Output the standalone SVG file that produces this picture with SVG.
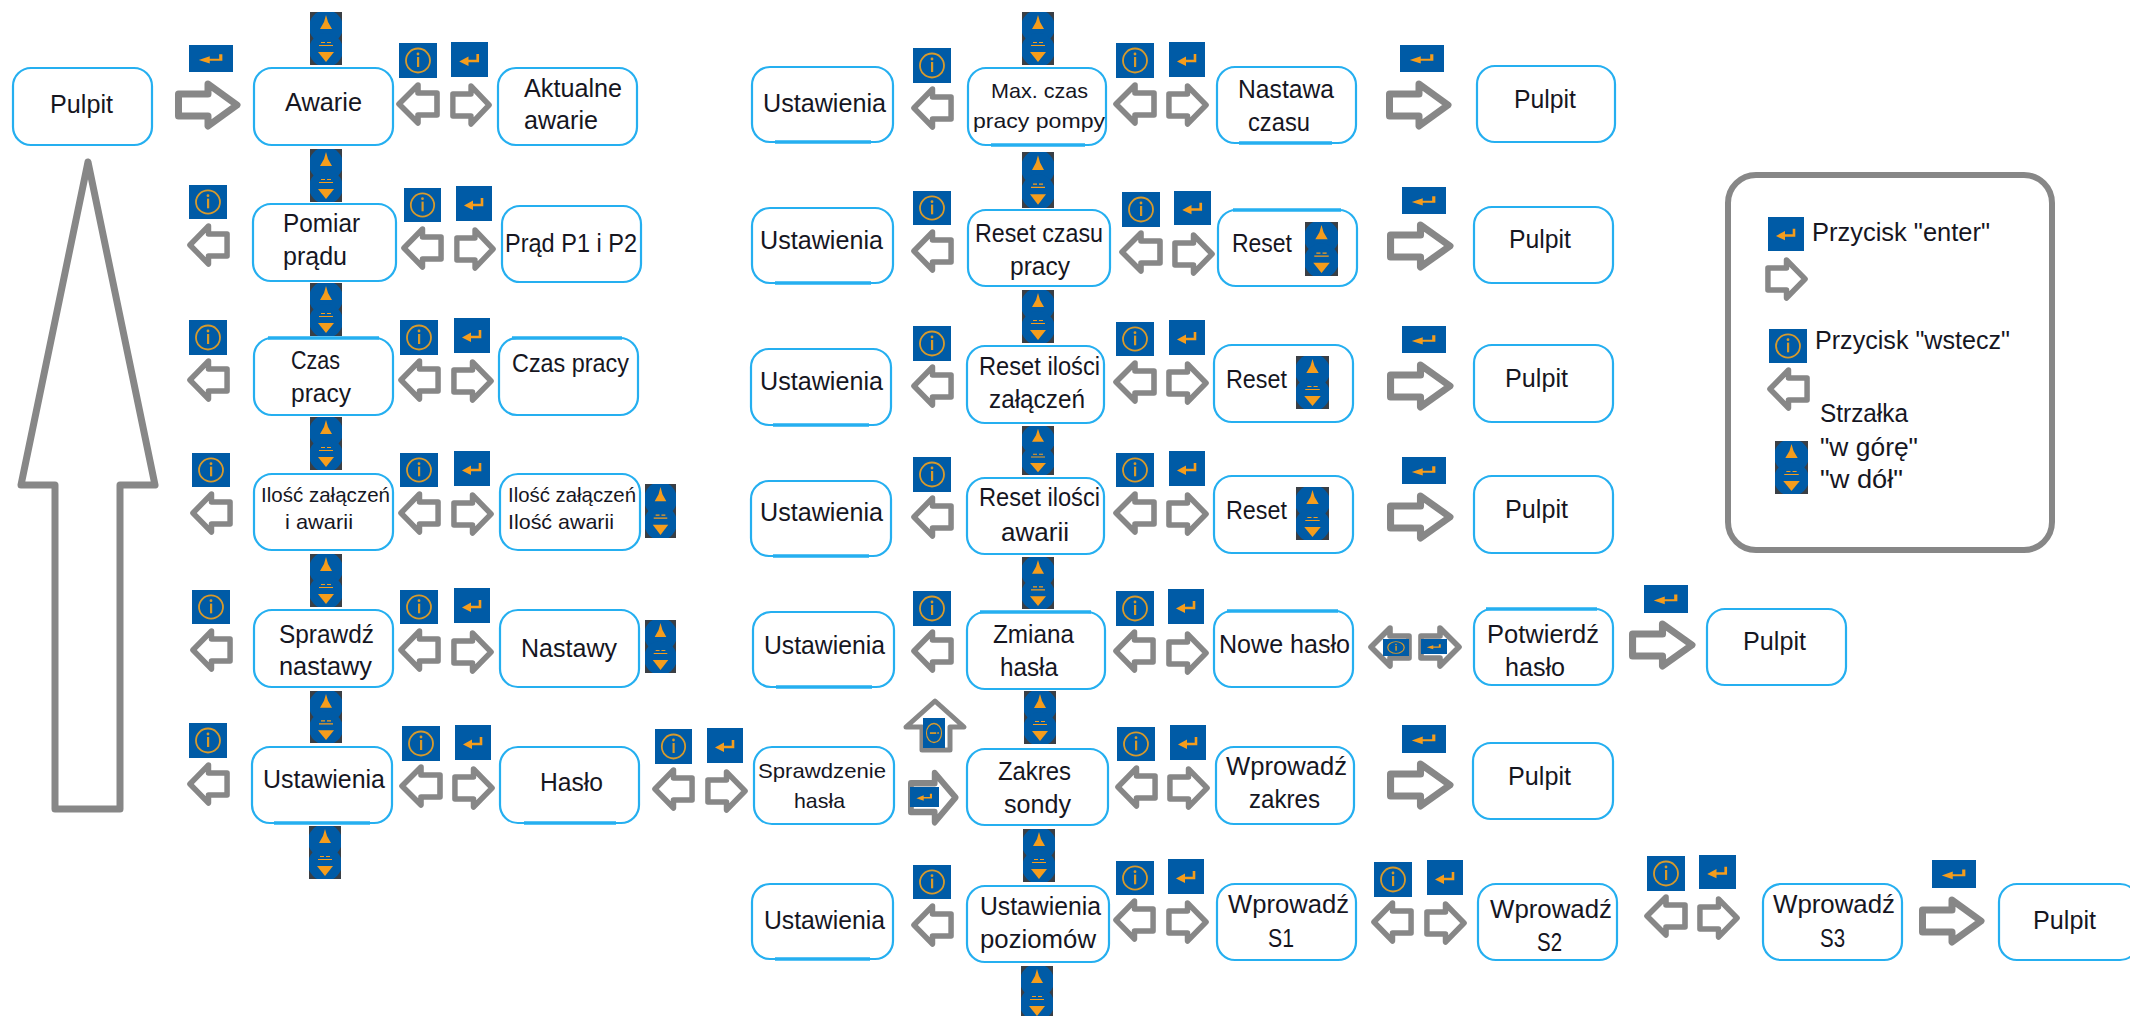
<svg xmlns="http://www.w3.org/2000/svg" width="2130" height="1016" viewBox="0 0 2130 1016">
<style>
text{font-family:"Liberation Sans",Arial,sans-serif;font-size:25px;fill:#16161f}
.s{font-size:21px}
.n{fill:#fff;stroke:#25aff0;stroke-width:2.2}
.t{fill:none;stroke:#25aff0;stroke-width:3.6}
.a{fill:#fff;stroke:#878787;stroke-linejoin:round}
.o{fill:#f59d1c}
.ol{fill:none;stroke:#f59d1c}
.ring{fill:none;stroke:#d79a2c}
.k{fill:#005ba6}
</style>
<defs>
<symbol id="ar" viewBox="0 0 44 44" preserveAspectRatio="none"><polygon class="a" stroke-width="5.600" points="3,11 22,11 22,3 41,22 22,41 22,33 3,33"/></symbol>
<symbol id="al" viewBox="0 0 44 44" preserveAspectRatio="none"><polygon class="a" stroke-width="5.600" points="41,11 22,11 22,3 3,22 22,41 22,33 41,33"/></symbol>
<symbol id="aR" viewBox="0 0 66 50" preserveAspectRatio="none"><polygon class="a" stroke-width="7" points="3.500,14 33,14 33,4 62,25 33,46 33,36 3.500,36"/></symbol>
<symbol id="en" viewBox="0 0 36 35" preserveAspectRatio="none"><rect class="k" width="36" height="35"/><path class="ol" stroke-width="2.600" d="M26 12V19H15"/><polygon class="o" points="8,19.500 17,14.500 17,24"/></symbol>
<symbol id="in" viewBox="0 0 38 35" preserveAspectRatio="none"><rect class="k" width="38" height="35"/><circle class="ring" stroke-width="1.800" cx="19" cy="17.500" r="12"/><rect x="18" y="14" width="2.200" height="10" fill="#d79a2c"/><circle cx="19" cy="11" r="1.400" fill="#d79a2c"/></symbol>
<symbol id="ud" viewBox="0 0 32 53" preserveAspectRatio="none"><rect width="32" height="53" fill="#3a3f45"/><ellipse class="k" cx="16" cy="15" rx="17" ry="17"/><ellipse class="k" cx="16" cy="38" rx="17" ry="17"/><polygon class="o" points="16,3 18,10 22,17 10,17 14,10"/><polygon class="o" points="8,40 24,40 16,50"/><path class="ol" stroke-width="1.200" d="M9 33.500H23M11 30.500h4M17 30.500h4"/></symbol>
</defs>
<rect width="2130" height="1016" fill="#fff"/>
<g id="connectors">
<polygon class="a" stroke-width="7" points="88,162 155,485 120,485 120,809 55,809 55,485 21,485"/>
<use href="#aR" x="175" y="80" width="66" height="50"/><use href="#al" x="396" y="82" width="44" height="44"/><use href="#ar" x="450" y="83" width="42" height="44"/>
<use href="#al" x="187" y="223" width="43" height="44"/><use href="#al" x="401" y="226" width="43" height="44"/><use href="#ar" x="454" y="227" width="42" height="44"/>
<use href="#al" x="187" y="358" width="43" height="44"/><use href="#al" x="398" y="358" width="43" height="44"/><use href="#ar" x="451" y="359" width="43" height="44"/>
<use href="#al" x="190" y="491" width="43" height="44"/><use href="#al" x="398" y="491" width="43" height="44"/><use href="#ar" x="451" y="492" width="43" height="44"/>
<use href="#al" x="190" y="628" width="43" height="44"/><use href="#al" x="398" y="628" width="43" height="44"/><use href="#ar" x="451" y="630" width="43" height="44"/>
<use href="#al" x="187" y="762" width="43" height="44"/><use href="#al" x="399" y="764" width="44" height="44"/><use href="#ar" x="452" y="766" width="43" height="44"/>
<use href="#al" x="652" y="767" width="43" height="44"/><use href="#ar" x="705" y="769" width="43" height="44"/>
<use href="#al" x="911" y="86" width="43" height="44"/><use href="#al" x="1113" y="82" width="44" height="44"/><use href="#ar" x="1166" y="83" width="43" height="44"/><use href="#aR" x="1386" y="80" width="66" height="50"/>
<use href="#al" x="911" y="229" width="43" height="44"/><use href="#al" x="1119" y="230" width="44" height="44"/><use href="#ar" x="1172" y="232" width="43" height="44"/><use href="#aR" x="1387" y="221" width="67" height="50"/>
<use href="#al" x="911" y="364" width="43" height="44"/><use href="#al" x="1113" y="360" width="44" height="44"/><use href="#ar" x="1166" y="361" width="43" height="44"/><use href="#aR" x="1387" y="361" width="67" height="50"/>
<use href="#al" x="911" y="495" width="43" height="44"/><use href="#al" x="1113" y="491" width="44" height="44"/><use href="#ar" x="1166" y="492" width="43" height="44"/><use href="#aR" x="1387" y="492" width="67" height="50"/>
<use href="#al" x="911" y="629" width="43" height="44"/><use href="#al" x="1113" y="629" width="43" height="44"/><use href="#ar" x="1166" y="631" width="43" height="44"/>
<use href="#al" x="1368" y="625" width="44" height="44"/><use href="#ar" x="1418" y="625" width="44" height="44"/><use href="#aR" x="1629" y="620" width="67" height="50"/>
<polygon class="a" stroke-width="5" points="935,701 964,727 950,727 950,750 922,750 922,727 906,727"/>
<polygon class="a" stroke-width="5" transform="translate(908 769) scale(1.160 1.300)" points="2.500,11 23,11 23,3 41,22 23,41 23,33 2.500,33"/>
<use href="#al" x="1115" y="765" width="43" height="44"/><use href="#ar" x="1167" y="766" width="43" height="44"/><use href="#aR" x="1387" y="760" width="67" height="50"/>
<use href="#al" x="911" y="903" width="43" height="44"/><use href="#al" x="1113" y="898" width="43" height="44"/><use href="#ar" x="1166" y="900" width="43" height="44"/>
<use href="#al" x="1371" y="900" width="43" height="44"/><use href="#ar" x="1424" y="901" width="43" height="44"/>
<use href="#al" x="1644" y="894" width="44" height="44"/><use href="#ar" x="1697" y="896" width="43" height="44"/><use href="#aR" x="1919" y="896" width="66" height="50"/>
</g>
<g id="keys">
<use href="#en" x="189" y="45" width="44" height="27"/><use href="#in" x="399" y="43" width="38" height="35"/><use href="#en" x="451" y="42" width="37" height="35"/>
<use href="#ud" x="310" y="12" width="32" height="53"/><use href="#ud" x="310" y="149" width="32" height="53"/><use href="#ud" x="310" y="283" width="32" height="53"/><use href="#ud" x="310" y="417" width="32" height="53"/><use href="#ud" x="310" y="554" width="32" height="53"/><use href="#ud" x="310" y="691" width="32" height="52"/><use href="#ud" x="309" y="826" width="32" height="53"/>
<use href="#in" x="189" y="185" width="38" height="34"/><use href="#in" x="404" y="188" width="37" height="34"/><use href="#en" x="456" y="186" width="36" height="35"/>
<use href="#in" x="189" y="320" width="38" height="35"/><use href="#in" x="400" y="320" width="38" height="35"/><use href="#en" x="454" y="318" width="36" height="35"/>
<use href="#in" x="192" y="453" width="38" height="34"/><use href="#in" x="400" y="453" width="38" height="34"/><use href="#en" x="454" y="451" width="36" height="35"/>
<use href="#in" x="192" y="590" width="38" height="34"/><use href="#in" x="400" y="590" width="38" height="34"/><use href="#en" x="454" y="588" width="36" height="35"/>
<use href="#in" x="189" y="723" width="38" height="35"/><use href="#in" x="402" y="726" width="38" height="35"/><use href="#en" x="455" y="725" width="36" height="35"/>
<use href="#in" x="655" y="729" width="37" height="35"/><use href="#en" x="707" y="728" width="36" height="35"/>
<use href="#in" x="913" y="48" width="38" height="35"/><use href="#ud" x="1022" y="12" width="32" height="53"/><use href="#in" x="1116" y="43" width="38" height="35"/><use href="#en" x="1169" y="42" width="36" height="35"/><use href="#en" x="1400" y="45" width="44" height="27"/>
<use href="#ud" x="1022" y="152" width="32" height="56"/><use href="#in" x="913" y="191" width="38" height="34"/><use href="#in" x="1122" y="192" width="38" height="35"/><use href="#en" x="1174" y="191" width="37" height="34"/><use href="#en" x="1402" y="187" width="44" height="27"/>
<use href="#ud" x="1022" y="290" width="32" height="53"/><use href="#in" x="913" y="326" width="38" height="35"/><use href="#in" x="1116" y="322" width="38" height="34"/><use href="#en" x="1169" y="320" width="36" height="35"/><use href="#en" x="1402" y="326" width="44" height="27"/>
<use href="#ud" x="1022" y="426" width="32" height="49"/><use href="#in" x="913" y="457" width="38" height="35"/><use href="#in" x="1116" y="453" width="38" height="34"/><use href="#en" x="1169" y="451" width="36" height="35"/><use href="#en" x="1402" y="457" width="44" height="27"/>
<use href="#ud" x="1022" y="557" width="32" height="52"/><use href="#in" x="913" y="591" width="38" height="35"/><use href="#in" x="1116" y="591" width="38" height="35"/><use href="#en" x="1168" y="589" width="36" height="35"/>
<use href="#in" x="1383" y="639" width="26" height="17"/><use href="#en" x="1421" y="639" width="26" height="15"/><use href="#en" x="1644" y="585" width="44" height="28"/>
<use href="#ud" x="1024" y="691" width="32" height="53"/><use href="#in" transform="rotate(90 934 733)" x="919" y="722" width="30" height="22"/><use href="#en" x="910" y="787" width="29" height="20"/>
<use href="#in" x="1117" y="727" width="38" height="34"/><use href="#en" x="1170" y="725" width="36" height="35"/><use href="#en" x="1402" y="725" width="44" height="28"/>
<use href="#ud" x="1023" y="829" width="32" height="53"/><use href="#in" x="913" y="865" width="38" height="34"/><use href="#in" x="1116" y="861" width="38" height="34"/><use href="#en" x="1168" y="859" width="36" height="35"/>
<use href="#in" x="1374" y="862" width="38" height="35"/><use href="#en" x="1427" y="860" width="36" height="35"/><use href="#in" x="1647" y="856" width="38" height="35"/><use href="#en" x="1699" y="855" width="37" height="34"/><use href="#en" x="1932" y="860" width="44" height="28"/>
<use href="#ud" x="1021" y="966" width="32" height="53"/>
</g>
<g id="n-pulpit"><rect class="n" x="13" y="68" width="139" height="77" rx="18"/><text x="50" y="113" textLength="63" lengthAdjust="spacingAndGlyphs">Pulpit</text></g>
<g id="n-awarie"><rect class="n" x="254" y="68" width="139" height="77" rx="18"/><text x="285" y="111" textLength="77" lengthAdjust="spacingAndGlyphs">Awarie</text></g>
<g id="n-aktualne"><rect class="n" x="498" y="68" width="139" height="77" rx="18"/><text x="524" y="97" textLength="98" lengthAdjust="spacingAndGlyphs">Aktualne</text><text x="524" y="129" textLength="74" lengthAdjust="spacingAndGlyphs">awarie</text></g>
<g id="n-pomiar"><rect class="n" x="253" y="204" width="143" height="77" rx="18"/><text x="283" y="232" textLength="77" lengthAdjust="spacingAndGlyphs">Pomiar</text><text x="283" y="265" textLength="64" lengthAdjust="spacingAndGlyphs">prądu</text></g>
<g id="n-prad"><rect class="n" x="502" y="206" width="139" height="76" rx="18"/><text x="505" y="252" textLength="132" lengthAdjust="spacingAndGlyphs">Prąd P1 i P2</text></g>
<g id="n-czas"><rect class="n" x="254" y="338" width="139" height="77" rx="18"/><path class="t" d="M268 338H379"/><text x="291" y="369" textLength="49" lengthAdjust="spacingAndGlyphs">Czas</text><text x="291" y="402" textLength="60" lengthAdjust="spacingAndGlyphs">pracy</text></g>
<g id="n-czas-pracy"><rect class="n" x="499" y="338" width="139" height="77" rx="18"/><path class="t" d="M512 338H622"/><text x="512" y="372" textLength="117" lengthAdjust="spacingAndGlyphs">Czas pracy</text></g>
<g id="n-ilosc"><rect class="n" x="254" y="474" width="139" height="76" rx="18"/><text class="s" x="261" y="502" textLength="129" lengthAdjust="spacingAndGlyphs">Ilość załączeń</text><text class="s" x="285" y="529" textLength="68" lengthAdjust="spacingAndGlyphs">i awarii</text></g>
<g id="n-ilosc-r"><rect class="n" x="500" y="474" width="140" height="76" rx="18"/><text class="s" x="508" y="502" textLength="128" lengthAdjust="spacingAndGlyphs">Ilość załączeń</text><text class="s" x="508" y="529" textLength="106" lengthAdjust="spacingAndGlyphs">Ilość awarii</text><use href="#ud" x="645" y="484" width="31" height="54"/></g>
<g id="n-sprawdz"><rect class="n" x="254" y="610" width="139" height="77" rx="18"/><text x="279" y="643" textLength="95" lengthAdjust="spacingAndGlyphs">Sprawdź</text><text x="279" y="675" textLength="93" lengthAdjust="spacingAndGlyphs">nastawy</text></g>
<g id="n-nastawy"><rect class="n" x="500" y="610" width="139" height="77" rx="18"/><text x="521" y="657" textLength="96" lengthAdjust="spacingAndGlyphs">Nastawy</text><use href="#ud" x="645" y="620" width="31" height="53"/></g>
<g id="n-ustawienia"><rect class="n" x="252" y="747" width="140" height="76" rx="18"/><path class="t" d="M274 823H370"/><text x="263" y="788" textLength="122" lengthAdjust="spacingAndGlyphs">Ustawienia</text></g>
<g id="n-haslo"><rect class="n" x="500" y="747" width="139" height="76" rx="18"/><path class="t" d="M524 823H616"/><text x="540" y="791" textLength="63" lengthAdjust="spacingAndGlyphs">Hasło</text></g>
<g id="n-ust1"><rect class="n" x="752" y="67" width="141" height="75" rx="18"/><path class="t" d="M775 142H871"/><text x="763" y="112" textLength="123" lengthAdjust="spacingAndGlyphs">Ustawienia</text></g>
<g id="n-max"><rect class="n" x="968" y="68" width="138" height="77" rx="18"/><path class="t" d="M991 145H1085"/><text class="s" x="991" y="98" textLength="97" lengthAdjust="spacingAndGlyphs">Max. czas</text><text class="s" x="973" y="128" textLength="132" lengthAdjust="spacingAndGlyphs">pracy pompy</text></g>
<g id="n-nastawa"><rect class="n" x="1217" y="67" width="139" height="76" rx="18"/><path class="t" d="M1239 143H1332"/><text x="1238" y="98" textLength="96" lengthAdjust="spacingAndGlyphs">Nastawa</text><text x="1248" y="131" textLength="62" lengthAdjust="spacingAndGlyphs">czasu</text></g>
<g id="n-pulpit1"><rect class="n" x="1477" y="66" width="138" height="76" rx="18"/><text x="1514" y="108" textLength="62" lengthAdjust="spacingAndGlyphs">Pulpit</text></g>
<g id="n-ust2"><rect class="n" x="752" y="208" width="141" height="75" rx="18"/><path class="t" d="M775 283H871"/><text x="760" y="249" textLength="123" lengthAdjust="spacingAndGlyphs">Ustawienia</text></g>
<g id="n-reset-czasu"><rect class="n" x="968" y="210" width="142" height="76" rx="18"/><text x="975" y="242" textLength="128" lengthAdjust="spacingAndGlyphs">Reset czasu</text><text x="1010" y="275" textLength="60" lengthAdjust="spacingAndGlyphs">pracy</text></g>
<g id="n-reset1"><rect class="n" x="1218" y="210" width="139" height="76" rx="18"/><path class="t" d="M1233 210H1341"/><text x="1232" y="252" textLength="60" lengthAdjust="spacingAndGlyphs">Reset</text><use href="#ud" x="1305" y="222" width="33" height="54"/></g>
<g id="n-pulpit2"><rect class="n" x="1474" y="207" width="139" height="76" rx="18"/><text x="1509" y="248" textLength="62" lengthAdjust="spacingAndGlyphs">Pulpit</text></g>
<g id="n-ust3"><rect class="n" x="751" y="349" width="140" height="76" rx="18"/><path class="t" d="M773 425H869"/><text x="760" y="390" textLength="123" lengthAdjust="spacingAndGlyphs">Ustawienia</text></g>
<g id="n-reset-zal"><rect class="n" x="967" y="346" width="137" height="77" rx="18"/><text x="979" y="375" textLength="121" lengthAdjust="spacingAndGlyphs">Reset ilości</text><text x="989" y="408" textLength="96" lengthAdjust="spacingAndGlyphs">załączeń</text></g>
<g id="n-reset2"><rect class="n" x="1214" y="345" width="139" height="77" rx="18"/><text x="1226" y="388" textLength="61" lengthAdjust="spacingAndGlyphs">Reset</text><use href="#ud" x="1296" y="356" width="33" height="53"/></g>
<g id="n-pulpit3"><rect class="n" x="1474" y="345" width="139" height="77" rx="18"/><text x="1505" y="387" textLength="63" lengthAdjust="spacingAndGlyphs">Pulpit</text></g>
<g id="n-ust4"><rect class="n" x="751" y="481" width="140" height="75" rx="18"/><path class="t" d="M773 556H869"/><text x="760" y="521" textLength="123" lengthAdjust="spacingAndGlyphs">Ustawienia</text></g>
<g id="n-reset-aw"><rect class="n" x="967" y="478" width="137" height="76" rx="18"/><text x="979" y="506" textLength="121" lengthAdjust="spacingAndGlyphs">Reset ilości</text><text x="1001" y="541" textLength="68" lengthAdjust="spacingAndGlyphs">awarii</text></g>
<g id="n-reset3"><rect class="n" x="1214" y="476" width="139" height="77" rx="18"/><text x="1226" y="519" textLength="61" lengthAdjust="spacingAndGlyphs">Reset</text><use href="#ud" x="1296" y="487" width="33" height="53"/></g>
<g id="n-pulpit4"><rect class="n" x="1474" y="476" width="139" height="77" rx="18"/><text x="1505" y="518" textLength="63" lengthAdjust="spacingAndGlyphs">Pulpit</text></g>
<g id="n-ust5"><rect class="n" x="753" y="612" width="141" height="75" rx="18"/><path class="t" d="M776 687H872"/><text x="764" y="654" textLength="121" lengthAdjust="spacingAndGlyphs">Ustawienia</text></g>
<g id="n-zmiana"><rect class="n" x="967" y="612" width="138" height="77" rx="18"/><path class="t" d="M980 612H1091"/><text x="993" y="643" textLength="81" lengthAdjust="spacingAndGlyphs">Zmiana</text><text x="1000" y="676" textLength="58" lengthAdjust="spacingAndGlyphs">hasła</text></g>
<g id="n-nowe"><rect class="n" x="1214" y="611" width="139" height="76" rx="18"/><path class="t" d="M1227 611H1338"/><text x="1219" y="653" textLength="131" lengthAdjust="spacingAndGlyphs">Nowe hasło</text></g>
<g id="n-potwierdz"><rect class="n" x="1474" y="609" width="139" height="76" rx="18"/><path class="t" d="M1486 609H1597"/><text x="1487" y="643" textLength="112" lengthAdjust="spacingAndGlyphs">Potwierdź</text><text x="1505" y="676" textLength="60" lengthAdjust="spacingAndGlyphs">hasło</text></g>
<g id="n-pulpit5"><rect class="n" x="1707" y="609" width="139" height="76" rx="18"/><text x="1743" y="650" textLength="63" lengthAdjust="spacingAndGlyphs">Pulpit</text></g>
<g id="n-sprawdzenie"><rect class="n" x="754" y="747" width="140" height="77" rx="18"/><text class="s" x="758" y="778" textLength="128" lengthAdjust="spacingAndGlyphs">Sprawdzenie</text><text class="s" x="794" y="808" textLength="51" lengthAdjust="spacingAndGlyphs">hasła</text></g>
<g id="n-zakres"><rect class="n" x="967" y="749" width="141" height="76" rx="18"/><text x="998" y="780" textLength="73" lengthAdjust="spacingAndGlyphs">Zakres</text><text x="1004" y="813" textLength="67" lengthAdjust="spacingAndGlyphs">sondy</text></g>
<g id="n-wpr-zakres"><rect class="n" x="1216" y="747" width="138" height="77" rx="18"/><text x="1226" y="775" textLength="121" lengthAdjust="spacingAndGlyphs">Wprowadź</text><text x="1249" y="808" textLength="71" lengthAdjust="spacingAndGlyphs">zakres</text></g>
<g id="n-pulpit6"><rect class="n" x="1473" y="743" width="140" height="76" rx="18"/><text x="1508" y="785" textLength="63" lengthAdjust="spacingAndGlyphs">Pulpit</text></g>
<g id="n-ust7"><rect class="n" x="752" y="884" width="141" height="75" rx="18"/><path class="t" d="M775 959H870"/><text x="764" y="929" textLength="121" lengthAdjust="spacingAndGlyphs">Ustawienia</text></g>
<g id="n-poziomow"><rect class="n" x="967" y="886" width="142" height="76" rx="18"/><text x="980" y="915" textLength="121" lengthAdjust="spacingAndGlyphs">Ustawienia</text><text x="980" y="948" textLength="116" lengthAdjust="spacingAndGlyphs">poziomów</text></g>
<g id="n-s1"><rect class="n" x="1217" y="884" width="139" height="76" rx="18"/><text x="1228" y="913" textLength="121" lengthAdjust="spacingAndGlyphs">Wprowadź</text><text x="1268" y="947" textLength="26" lengthAdjust="spacingAndGlyphs">S1</text></g>
<g id="n-s2"><rect class="n" x="1478" y="884" width="139" height="76" rx="18"/><text x="1490" y="918" textLength="122" lengthAdjust="spacingAndGlyphs">Wprowadź</text><text x="1537" y="951" textLength="25" lengthAdjust="spacingAndGlyphs">S2</text></g>
<g id="n-s3"><rect class="n" x="1763" y="884" width="139" height="76" rx="18"/><text x="1773" y="913" textLength="122" lengthAdjust="spacingAndGlyphs">Wprowadź</text><text x="1820" y="947" textLength="25" lengthAdjust="spacingAndGlyphs">S3</text></g>
<g id="n-pulpit7"><rect class="n" x="1999" y="884" width="139" height="76" rx="18"/><text x="2033" y="929" textLength="63" lengthAdjust="spacingAndGlyphs">Pulpit</text></g>
<g id="legend">
<rect x="1728" y="175" width="324" height="375" rx="28" fill="#fff" stroke="#878787" stroke-width="6"/>
<use href="#en" x="1768" y="217" width="36" height="34"/><text x="1812" y="241" textLength="178" lengthAdjust="spacingAndGlyphs">Przycisk "enter"</text>
<use href="#ar" x="1765" y="257" width="43" height="44"/>
<use href="#in" x="1769" y="329" width="38" height="34"/><text x="1815" y="349" textLength="195" lengthAdjust="spacingAndGlyphs">Przycisk "wstecz"</text>
<use href="#al" x="1767" y="367" width="43" height="44"/>
<text x="1820" y="422" textLength="88" lengthAdjust="spacingAndGlyphs">Strzałka</text>
<text x="1820" y="456" textLength="98" lengthAdjust="spacingAndGlyphs">"w górę"</text>
<text x="1820" y="488" textLength="83" lengthAdjust="spacingAndGlyphs">"w dół"</text>
<use href="#ud" x="1775" y="441" width="33" height="53"/>
</g>
</svg>
